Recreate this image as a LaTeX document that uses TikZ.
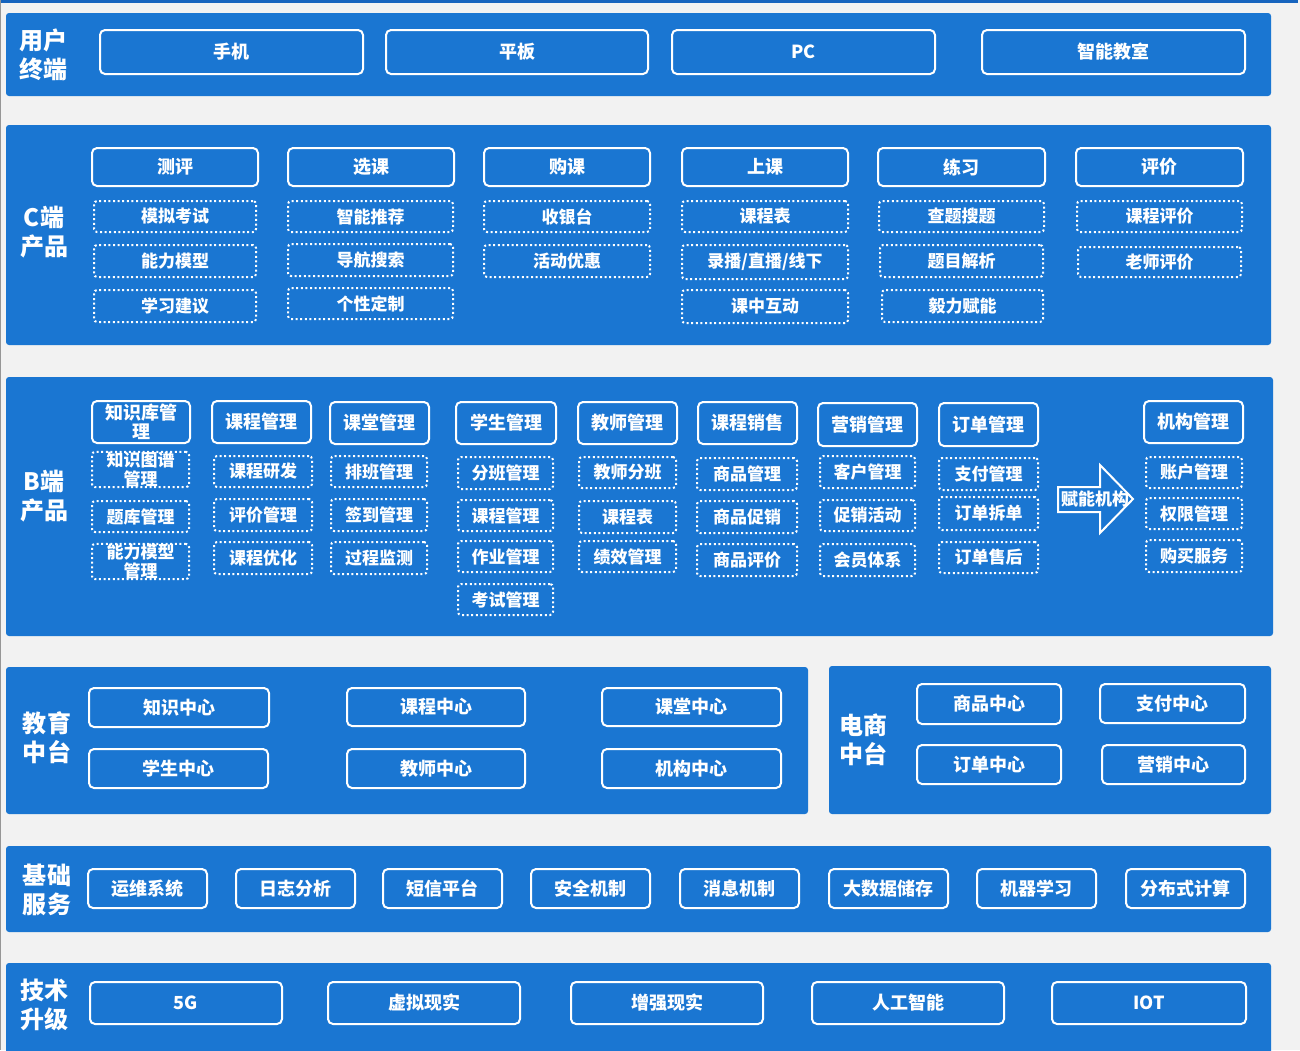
\documentclass[tikz,border=0pt]{standalone}
\usepackage{fontspec}
\setmainfont{Noto Sans CJK SC}
\definecolor{bandblue}{RGB}{26,118,210}
\definecolor{topblue}{RGB}{22,100,190}
\definecolor{bggray}{RGB}{242,242,242}
\definecolor{edgegray}{RGB}{150,150,150}
\tikzset{
  band/.style={fill=bandblue, draw=none, rounded corners=3pt, inner sep=0pt},
  sbox/.style={draw=white, line width=2pt, rounded corners=5pt, text=white,
    font=\bfseries\fontsize{18}{19}\selectfont, inner sep=0pt, align=center},
  dbox/.style={draw=white, line width=2pt, dash pattern=on 2pt off 2.6pt, rounded corners=3pt,
    text=white, font=\bfseries\fontsize{17}{19}\selectfont, inner sep=0pt, align=center},
  blabel/.style={text=white, font=\bfseries\fontsize{24}{29}\selectfont, align=center, inner sep=0pt},
  arrowlabel/.style={text=white, font=\bfseries\fontsize{17}{19}\selectfont, inner sep=0pt}
}
\newcommand\bx[7]{\node[#1, minimum width={#5-#3}, minimum height={#6-#4}] (#2) at ({(#3+#5)/2},{(#4+#6)/2}) {#7};}
\begin{document}
\begin{tikzpicture}[x=1pt,y=-1pt]
\useasboundingbox (0,0) rectangle (1300,1050);
\fill[bggray] (0,0) rectangle (1300,1050);
\fill[topblue] (0,0) rectangle (1298,3);
\fill[edgegray] (0,0) rectangle (1.2,1050);
% ---------- band 1
\bx{band}{band1}{6}{13}{1271}{96}{}
\node[blabel] (l1) at (43,55) {用户\\终端};
\bx{sbox}{phone}{100}{30}{363}{74}{手机}
\bx{sbox}{pad}{386}{30}{648}{74}{平板}
\bx{sbox}{pc}{672}{30}{935}{74}{PC}
\bx{sbox}{room}{982}{30}{1245}{74}{智能教室}
% ---------- band 2
\bx{band}{band2}{6}{125}{1271}{345}{}
\node[blabel] (l2) at (44,232) {C端\\产品};
\bx{sbox}{cp}{92}{148}{258}{186}{测评}
\bx{sbox}{xk}{288}{148}{454}{186}{选课}
\bx{sbox}{gk}{484}{148}{650}{186}{购课}
\bx{sbox}{sk}{682}{148}{848}{186}{上课}
\bx{sbox}{lx}{878}{148}{1045}{186}{练习}
\bx{sbox}{pj}{1076}{148}{1243}{186}{评价}
\bx{dbox}{cp1}{94}{201}{256}{232}{模拟考试}
\bx{dbox}{cp2}{94}{245}{256}{277}{能力模型}
\bx{dbox}{cp3}{94}{290}{256}{322}{学习建议}
\bx{dbox}{xk1}{288}{201}{453}{232}{智能推荐}
\bx{dbox}{xk2}{288}{244}{453}{276}{导航搜索}
\bx{dbox}{xk3}{288}{288}{453}{319}{个性定制}
\bx{dbox}{gk1}{484}{201}{650}{232}{收银台}
\bx{dbox}{gk2}{484}{245}{650}{277}{活动优惠}
\bx{dbox}{sk1}{682}{201}{848}{232}{课程表}
\bx{dbox}{sk2}{682}{245}{848}{279}{录播/直播/线下}
\bx{dbox}{sk3}{682}{290}{848}{323}{课中互动}
\bx{dbox}{lx1}{879}{201}{1044}{232}{查题搜题}
\bx{dbox}{lx2}{880}{245}{1043}{277}{题目解析}
\bx{dbox}{lx3}{882}{290}{1043}{322}{毅力赋能}
\bx{dbox}{pj1}{1077}{201}{1242}{232}{课程评价}
\bx{dbox}{pj2}{1078}{247}{1241}{277}{老师评价}
% ---------- band 3
\bx{band}{band3}{6}{377}{1273}{636}{}
\node[blabel] (l3) at (44,496) {B端\\产品};
\bx{sbox}{zsk}{92}{401}{190}{443}{知识库管\\理}
\bx{sbox}{kcgl}{212}{401}{311}{443}{课程管理}
\bx{sbox}{ktgl}{330}{402}{429}{444}{课堂管理}
\bx{sbox}{xsgl}{456}{402}{556}{444}{学生管理}
\bx{sbox}{jsgl}{578}{402}{677}{444}{教师管理}
\bx{sbox}{kcxs}{698}{402}{797}{444}{课程销售}
\bx{sbox}{yxgl}{818}{403}{917}{446}{营销管理}
\bx{sbox}{ddgl}{939}{403}{1038}{446}{订单管理}
\bx{sbox}{jggl}{1144}{401}{1243}{443}{机构管理}
\bx{dbox}{zsk1}{92}{453}{189}{486}{知识图谱\\管理}
\bx{dbox}{zsk2}{92}{501}{189}{532}{题库管理}
\bx{dbox}{zsk3}{92}{545}{189}{578}{能力模型\\管理}
\bx{dbox}{kcgl1}{214}{456}{312}{487}{课程研发}
\bx{dbox}{kcgl2}{214}{499}{312}{531}{评价管理}
\bx{dbox}{kcgl3}{214}{542}{312}{574}{课程优化}
\bx{dbox}{ktgl1}{331}{456}{427}{487}{排班管理}
\bx{dbox}{ktgl2}{331}{499}{427}{531}{签到管理}
\bx{dbox}{ktgl3}{331}{542}{427}{574}{过程监测}
\bx{dbox}{xsgl1}{458}{457}{553}{489}{分班管理}
\bx{dbox}{xsgl2}{458}{500}{553}{531}{课程管理}
\bx{dbox}{xsgl3}{458}{541}{553}{572}{作业管理}
\bx{dbox}{xsgl4}{458}{584}{553}{615}{考试管理}
\bx{dbox}{jsgl1}{579}{457}{676}{488}{教师分班}
\bx{dbox}{jsgl2}{579}{501}{676}{533}{课程表}
\bx{dbox}{jsgl3}{579}{541}{676}{572}{绩效管理}
\bx{dbox}{kcxs1}{697}{458}{797}{490}{商品管理}
\bx{dbox}{kcxs2}{697}{501}{797}{533}{商品促销}
\bx{dbox}{kcxs3}{697}{544}{797}{576}{商品评价}
\bx{dbox}{yxgl1}{820}{456}{915}{488}{客户管理}
\bx{dbox}{yxgl2}{820}{500}{915}{531}{促销活动}
\bx{dbox}{yxgl3}{820}{544}{915}{576}{会员体系}
\bx{dbox}{ddgl1}{939}{458}{1038}{490}{支付管理}
\bx{dbox}{ddgl2}{939}{497}{1038}{530}{订单拆单}
\bx{dbox}{ddgl3}{939}{542}{1038}{573}{订单售后}
\bx{dbox}{jggl1}{1146}{457}{1242}{488}{账户管理}
\bx{dbox}{jggl2}{1146}{498}{1242}{529}{权限管理}
\bx{dbox}{jggl3}{1146}{540}{1242}{572}{购买服务}
% arrow
\draw[white, line width=2pt, fill=bandblue, line join=miter]
  (1058,487) -- (1100,487) -- (1100,465) -- (1133,499) -- (1100,533) -- (1100,512) -- (1058,512) -- cycle;
\node[arrowlabel] (fn) at (1095,499) {赋能机构};
% ---------- band 4a
\bx{band}{band4a}{6}{667}{808}{814}{}
\node[blabel] (l4a) at (47,738) {教育\\中台};
\bx{sbox}{zszx}{89}{688}{269}{727}{知识中心}
\bx{sbox}{kczx}{347}{688}{525}{726}{课程中心}
\bx{sbox}{ktzx}{602}{688}{781}{726}{课堂中心}
\bx{sbox}{xszx}{89}{749}{268}{788}{学生中心}
\bx{sbox}{jszx}{347}{749}{525}{788}{教师中心}
\bx{sbox}{jgzx}{602}{749}{781}{788}{机构中心}
% ---------- band 4b
\bx{band}{band4b}{829}{666}{1271}{814}{}
\node[blabel] (l4b) at (863,740) {电商\\中台};
\bx{sbox}{spzx}{917}{684}{1061}{724}{商品中心}
\bx{sbox}{zfzx}{1100}{684}{1245}{723}{支付中心}
\bx{sbox}{ddzx}{917}{745}{1061}{784}{订单中心}
\bx{sbox}{yxzx}{1102}{745}{1245}{784}{营销中心}
% ---------- band 5
\bx{band}{band5}{6}{846}{1271}{932}{}
\node[blabel] (l5) at (47,890) {基础\\服务};
\bx{sbox}{yw}{88}{869}{207}{908}{运维系统}
\bx{sbox}{rz}{236}{869}{355}{908}{日志分析}
\bx{sbox}{dx}{383}{869}{502}{908}{短信平台}
\bx{sbox}{aq}{531}{869}{650}{908}{安全机制}
\bx{sbox}{xx}{680}{869}{799}{908}{消息机制}
\bx{sbox}{dsj}{829}{869}{948}{908}{大数据储存}
\bx{sbox}{jq}{977}{869}{1096}{908}{机器学习}
\bx{sbox}{fbs}{1126}{869}{1245}{908}{分布式计算}
% ---------- band 6
\bx{band}{band6}{6}{963}{1271}{1056}{}
\node[blabel] (l6) at (44,1005) {技术\\升级};
\bx{sbox}{g5}{90}{982}{282}{1024}{5G}
\bx{sbox}{vr}{328}{982}{520}{1024}{虚拟现实}
\bx{sbox}{ar}{571}{982}{763}{1024}{增强现实}
\bx{sbox}{ai}{812}{982}{1004}{1024}{人工智能}
\bx{sbox}{iot}{1052}{982}{1246}{1024}{IOT}
\end{tikzpicture}
\end{document}
